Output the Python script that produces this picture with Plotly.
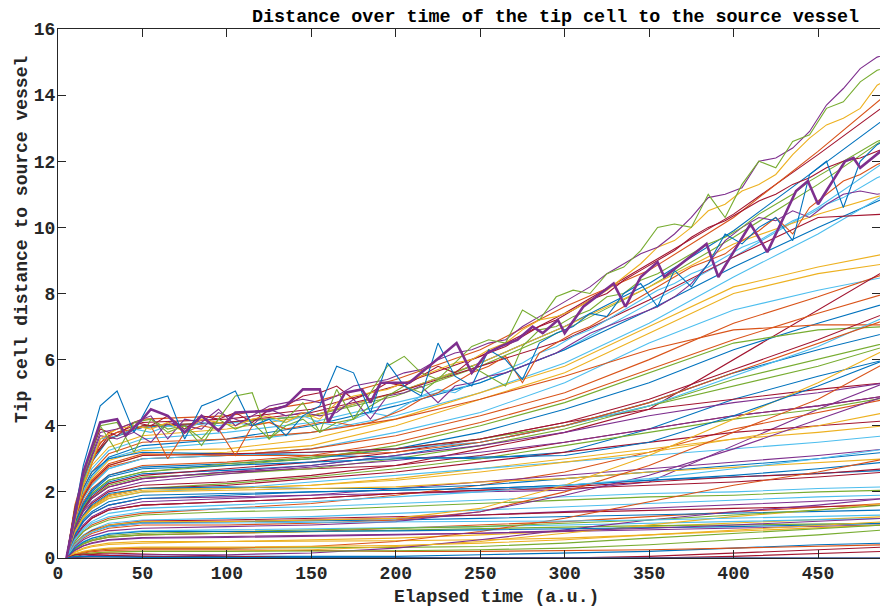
import plotly.graph_objects as go

# MATLAB default colour order
palette = ["#0072BD", "#D95319", "#EDB120", "#7E2F8E", "#77AC30", "#4DBEEE", "#A2142F"]

# Sample times for the smoothly growing tip cells
smooth_t = [5, 10, 15, 20, 30, 50, 100, 150, 200, 250, 300, 350, 400, 450, 490]

# (colour index, distance at each sample time)
smooth_lines = [
    (6, [0, 1.5, 2.4, 3.0, 3.7, 4.1, 4.2, 4.5, 5.2, 6.1, 7.4, 8.9, 10.4, 12.2, 13.7]),
    (0, [0, 1.5, 2.3, 2.9, 3.6, 3.95, 4.1, 4.3, 5.0, 5.9, 7.0, 8.3, 9.9, 11.8, 13.3]),
    (1, [0, 1.6, 2.5, 3.1, 3.8, 4.2, 4.3, 4.7, 5.4, 6.3, 7.6, 8.7, 10.3, 12.3, 14.0]),
    (4, [0, 1.5, 2.4, 3.0, 3.6, 4.0, 4.1, 4.3, 4.9, 5.8, 6.9, 8.2, 9.7, 11.3, 12.7]),
    (5, [0, 1.4, 2.2, 2.7, 3.25, 3.6, 3.8, 4.1, 4.7, 5.3, 6.3, 7.7, 9.1, 10.6, 12.0]),
    (2, [0, 1.4, 2.2, 2.8, 3.35, 3.7, 3.9, 4.3, 5.0, 5.9, 7.0, 8.2, 9.5, 10.4, 11.0]),
    (0, [0, 1.3, 2.0, 2.5, 3.05, 3.4, 3.6, 4.0, 4.6, 5.3, 6.3, 7.5, 8.8, 10.0, 10.9]),
    (5, [0, 1.25, 2.0, 2.45, 3.0, 3.3, 3.5, 3.8, 4.3, 5.0, 5.9, 7.1, 8.5, 9.8, 11.0]),
    (6, [0, 1.5, 2.4, 3.0, 3.6, 4.0, 4.1, 4.4, 5.0, 5.8, 6.6, 7.8, 9.1, 10.3, 10.4]),
    (2, [0, 1.2, 1.95, 2.4, 2.95, 3.25, 3.3, 3.6, 4.2, 5.0, 5.8, 7.0, 8.2, 8.8, 9.2]),
    (2, [0, 1.2, 1.85, 2.3, 2.8, 3.1, 3.2, 3.4, 4.0, 4.8, 5.6, 6.8, 8.0, 8.6, 8.9]),
    (5, [0, 1.15, 1.8, 2.2, 2.7, 3.0, 3.1, 3.3, 3.8, 4.4, 5.3, 6.5, 7.5, 8.1, 8.5]),
    (1, [0, 1.1, 1.8, 2.25, 2.75, 3.0, 3.1, 3.3, 3.7, 4.3, 5.0, 6.0, 7.1, 7.9, 8.6]),
    (6, [0, 0.9, 1.45, 1.8, 2.15, 2.4, 2.6, 2.7, 2.8, 3.3, 3.8, 4.5, 6.0, 7.5, 8.7]),
    (1, [0, 1.05, 1.7, 2.1, 2.5, 2.8, 2.9, 3.1, 3.5, 4.1, 4.8, 5.7, 6.6, 7.4, 8.0]),
    (0, [0, 1.05, 1.65, 2.05, 2.5, 2.75, 2.85, 3.0, 3.3, 3.8, 4.5, 5.3, 6.3, 7.1, 7.7]),
    (1, [0, 1.35, 2.1, 2.6, 3.15, 3.5, 3.6, 3.8, 4.2, 4.8, 5.5, 6.3, 6.9, 7.05, 7.05]),
    (4, [0, 1.0, 1.55, 1.95, 2.35, 2.6, 2.8, 3.0, 3.4, 4.0, 4.7, 5.6, 6.5, 6.9, 7.0]),
    (0, [0, 0.95, 1.5, 1.9, 2.3, 2.55, 2.65, 2.8, 3.1, 3.5, 4.0, 4.7, 5.6, 6.3, 6.8]),
    (4, [0, 0.9, 1.45, 1.8, 2.2, 2.45, 2.55, 2.7, 3.0, 3.4, 3.9, 4.6, 5.4, 6.0, 6.5]),
    (0, [0, 1.3, 2.1, 2.6, 3.0, 3.2, 3.15, 3.1, 3.05, 3.0, 3.2, 3.9, 4.8, 5.5, 6.0]),
    (3, [0, 0.7, 1.1, 1.35, 1.6, 1.8, 1.85, 1.9, 1.95, 2.0, 2.05, 2.3, 3.4, 4.5, 5.3]),
    (6, [0, 0.95, 1.5, 1.85, 2.25, 2.5, 2.7, 2.9, 3.2, 3.6, 4.1, 4.5, 4.8, 5.1, 5.3]),
    (3, [0, 0.9, 1.45, 1.8, 2.15, 2.4, 2.6, 2.8, 3.1, 3.4, 3.8, 4.3, 4.7, 5.0, 5.3]),
    (6, [0, 0.85, 1.3, 1.65, 2.0, 2.2, 2.3, 2.5, 2.8, 3.1, 3.5, 3.9, 4.3, 4.6, 4.9]),
    (4, [0, 0.8, 1.25, 1.55, 1.9, 2.1, 2.25, 2.45, 2.7, 3.0, 3.4, 3.8, 4.2, 4.5, 4.85]),
    (1, [0, 0.5, 0.8, 1.0, 1.2, 1.35, 1.5, 1.65, 1.9, 2.2, 2.6, 3.2, 3.9, 4.4, 4.8]),
    (6, [0, 0.8, 1.25, 1.55, 1.9, 2.1, 2.2, 2.4, 2.6, 2.9, 3.2, 3.5, 3.8, 4.0, 4.15]),
    (2, [0, 0.8, 1.25, 1.55, 1.9, 2.1, 2.1, 2.2, 2.4, 2.7, 3.0, 3.3, 3.6, 3.8, 4.0]),
    (5, [0, 0.75, 1.2, 1.5, 1.8, 2.0, 2.1, 2.3, 2.5, 2.7, 2.9, 3.1, 3.3, 3.5, 3.7]),
    (3, [0, 0.65, 1.0, 1.25, 1.5, 1.7, 1.8, 1.9, 2.1, 2.3, 2.5, 2.7, 2.9, 3.1, 3.3]),
    (0, [0, 0.8, 1.3, 1.6, 1.95, 2.1, 2.15, 2.1, 2.1, 2.2, 2.4, 2.6, 2.8, 3.0, 3.2]),
    (2, [0, 0.75, 1.2, 1.5, 1.8, 2.0, 2.05, 2.1, 2.15, 2.3, 2.4, 2.6, 2.75, 2.9, 3.0]),
    (0, [0, 0.7, 1.15, 1.4, 1.7, 1.9, 1.95, 2.0, 2.05, 2.1, 2.2, 2.35, 2.45, 2.55, 2.65]),
    (6, [0, 0.6, 0.95, 1.2, 1.45, 1.6, 1.7, 1.8, 1.95, 2.05, 2.15, 2.3, 2.45, 2.55, 2.7]),
    (5, [0, 0.55, 0.85, 1.05, 1.25, 1.4, 1.5, 1.55, 1.65, 1.75, 1.85, 1.95, 2.0, 2.1, 2.15]),
    (4, [0, 0.5, 0.8, 0.95, 1.15, 1.3, 1.4, 1.45, 1.55, 1.65, 1.75, 1.85, 1.9, 2.0, 2.05]),
    (5, [0, 0.45, 0.7, 0.85, 1.05, 1.15, 1.2, 1.25, 1.35, 1.45, 1.55, 1.65, 1.75, 1.85, 1.9]),
    (3, [0, 0.4, 0.65, 0.8, 0.95, 1.05, 1.1, 1.15, 1.2, 1.3, 1.4, 1.5, 1.6, 1.7, 1.8]),
    (1, [0, 0.27, 0.42, 0.52, 0.63, 0.7, 0.75, 0.8, 0.9, 1.0, 1.1, 1.25, 1.4, 1.55, 1.65]),
    (2, [0, 0.17, 0.27, 0.34, 0.41, 0.45, 0.5, 0.55, 0.6, 0.7, 0.8, 0.95, 1.05, 1.15, 1.25]),
    (4, [0, 0.27, 0.42, 0.52, 0.63, 0.7, 0.75, 0.8, 0.85, 0.9, 0.95, 0.98, 1.0, 1.03, 1.05]),
    (0, [0, 0.02, 0.03, 0.04, 0.05, 0.05, 0.05, 0.05, 0.05, 0.1, 0.15, 0.2, 0.3, 0.4, 0.45]),
    (6, [0, 0, 0, 0, 0, 0, 0, 0, 0, 0, 0, 0.05, 0.15, 0.25, 0.33]),
    (6, [0, 0.06, 0.1, 0.13, 0.15, 0.12, 0.05, 0, 0, 0, 0, 0, 0.05, 0.12, 0.2]),
    (0, [0, 0.42, 0.65, 0.8, 0.97, 1.08, 1.1, 1.12, 1.15, 1.2, 1.25, 1.3, 1.35, 1.4, 1.45]),
    (5, [0, 0.32, 0.5, 0.6, 0.74, 0.82, 0.85, 0.88, 0.9, 0.95, 1.0, 1.05, 1.1, 1.15, 1.2]),
    (3, [0, 0.24, 0.37, 0.46, 0.56, 0.62, 0.65, 0.68, 0.7, 0.75, 0.8, 0.85, 0.9, 0.95, 1.0]),
    (2, [0, 0.19, 0.3, 0.37, 0.45, 0.5, 0.5, 0.5, 0.52, 0.55, 0.6, 0.7, 0.8, 0.9, 1.0]),
    (4, [0, 0.12, 0.18, 0.22, 0.27, 0.3, 0.3, 0.3, 0.32, 0.35, 0.45, 0.6, 0.75, 0.9, 1.0]),
    (1, [0, 0.1, 0.15, 0.19, 0.23, 0.25, 0.25, 0.22, 0.2, 0.2, 0.22, 0.25, 0.3, 0.35, 0.4]),
    (6, [0, 0.43, 0.67, 0.83, 1.0, 1.12, 1.15, 1.2, 1.25, 1.3, 1.38, 1.45, 1.5, 1.55, 1.6]),
    (6, [0, 0.6, 0.95, 1.2, 1.45, 1.6, 1.7, 1.8, 1.95, 2.05, 2.1, 2.2, 2.3, 2.45, 2.6]),
    (0, [0, 0.7, 1.1, 1.35, 1.6, 1.8, 1.9, 2.0, 2.05, 2.1, 2.2, 2.35, 2.5, 2.7, 2.9]),
    (2, [0, 0.8, 1.25, 1.5, 1.85, 2.05, 2.1, 2.2, 2.35, 2.6, 2.9, 3.2, 3.6, 4.0, 4.4]),
    (4, [0, 1.0, 1.55, 1.95, 2.35, 2.6, 2.85, 3.05, 3.3, 3.6, 4.0, 4.6, 5.2, 5.8, 6.4]),
    (3, [0, 0.9, 1.4, 1.7, 2.05, 2.3, 2.55, 2.75, 2.95, 3.2, 3.5, 3.9, 4.3, 4.6, 4.9]),
    (2, [0, 0.08, 0.12, 0.15, 0.18, 0.2, 0.2, 0.25, 0.35, 0.5, 0.75, 1.0, 1.25, 1.45, 1.65]),
    (3, [0, 0.04, 0.06, 0.08, 0.09, 0.1, 0.1, 0.15, 0.3, 0.55, 0.85, 1.15, 1.4, 1.6, 1.8]),
    (1, [0, 0.12, 0.18, 0.22, 0.27, 0.3, 0.3, 0.35, 0.5, 0.8, 1.2, 1.7, 2.2, 2.6, 3.0]),
    (2, [0, 0.42, 0.66, 0.8, 1.0, 1.1, 1.1, 1.15, 1.2, 1.5, 2.2, 3.1, 4.2, 5.3, 6.3]),
    (1, [0, 0.38, 0.6, 0.74, 0.9, 1.0, 1.0, 1.05, 1.15, 1.4, 2.0, 2.8, 3.8, 4.8, 5.9]),
    (3, [0, 0.35, 0.55, 0.67, 0.82, 0.9, 0.95, 1.0, 1.1, 1.4, 1.9, 2.5, 3.3, 4.2, 4.9]),
    (5, [0, 0.57, 0.9, 1.1, 1.35, 1.5, 1.6, 1.7, 1.85, 2.0, 2.2, 2.4, 2.7, 3.0, 3.3]),
    (0, [0, 1.05, 1.6, 2.0, 2.45, 2.7, 2.8, 2.9, 3.0, 3.05, 3.1, 3.5, 4.3, 5.2, 6.0]),
    (5, [0, 1.15, 1.8, 2.2, 2.7, 3.0, 3.1, 3.2, 3.3, 3.5, 4.0, 4.6, 5.5, 6.4, 7.3]),
    (6, [0, 1.2, 1.85, 2.3, 2.8, 3.1, 3.15, 3.2, 3.3, 3.6, 4.1, 4.8, 5.7, 6.6, 7.4]),
    (1, [0, 1.2, 1.9, 2.35, 2.85, 3.15, 3.1, 3.1, 3.2, 3.5, 4.0, 4.7, 5.6, 6.5, 7.2]),
    (4, [0, 0.29, 0.45, 0.55, 0.68, 0.75, 0.8, 0.85, 0.9, 0.95, 1.05, 1.15, 1.3, 1.45, 1.6]),
    (5, [0, 0.4, 0.63, 0.78, 0.95, 1.05, 1.06, 1.07, 1.08, 1.1, 1.12, 1.15, 1.2, 1.25, 1.3]),
    (0, [0, 0.3, 0.48, 0.6, 0.72, 0.8, 0.8, 0.8, 0.82, 0.85, 0.88, 0.9, 0.95, 1.0, 1.05]),
    (3, [0, 0.23, 0.36, 0.44, 0.54, 0.6, 0.62, 0.65, 0.7, 0.75, 0.82, 0.9, 1.0, 1.1, 1.2]),
    (2, [0, 0.13, 0.2, 0.25, 0.3, 0.33, 0.33, 0.35, 0.38, 0.45, 0.55, 0.7, 0.85, 1.0, 1.1]),
    (4, [0, 0.08, 0.12, 0.15, 0.18, 0.2, 0.2, 0.2, 0.22, 0.25, 0.3, 0.4, 0.55, 0.7, 0.85]),
    (6, [0, 0.1, 0.12, 0.1, 0.08, 0.05, 0.02, 0, 0, 0, 0, 0, 0, 0, 0]),
    (0, [0, 0.05, 0.05, 0.04, 0.03, 0.02, 0.01, 0, 0, 0, 0, 0, 0, 0, 0]),
]

# Sample times for the fluctuating, fastest-moving tip cells
noisy_t = [5, 15, 25, 35, 45, 55, 65, 75, 85, 95,
           105, 115, 125, 135, 145, 155, 165, 175, 185, 195,
           205, 215, 225, 235, 245, 255, 265, 275, 285, 295,
           305, 315, 325, 335, 345, 355, 365, 375, 385, 395,
           405, 415, 425, 435, 445, 455, 465, 475, 485, 495]

noisy_lines = [
    (5, [0, 2.3, 3.6, 3.7, 3.9, 3.8, 4.0, 3.9, 4.1, 4.0, 4.1, 4.0, 4.2, 4.1, 4.3, 4.1, 4.0, 4.2, 4.4, 4.3,
         4.6, 4.9, 5.1, 5.0, 5.3, 5.5, 5.7, 5.9, 6.2, 6.4, 6.7, 6.9, 7.2, 7.5, 7.8, 8.1, 8.3, 8.6, 8.8, 9.1,
         9.4, 9.6, 9.9, 10.2, 10.4, 10.7, 10.9, 11.2, 11.5, 11.7]),
    (3, [0, 2.4, 3.7, 3.6, 3.8, 3.5, 4.1, 4.0, 3.9, 4.4, 4.2, 4.0, 4.5, 4.3, 4.4, 4.3, 4.4, 4.8, 4.2, 4.9,
         5.0, 5.2, 4.7, 5.2, 5.3, 5.5, 5.6, 5.8, 6.0, 6.2, 6.5, 6.8, 7.0, 7.2, 7.4, 7.6, 7.9, 8.3, 8.9, 9.6,
         10.0, 10.3, 10.2, 10.5, 10.3, 10.7, 11.0, 11.1, 11.0, 11.1]),
    (1, [0, 2.2, 3.5, 3.8, 3.9, 4.0, 3.0, 3.8, 4.0, 3.9, 3.1, 4.0, 4.1, 3.9, 4.0, 4.1, 4.1, 4.0, 4.1, 4.3,
         4.5, 4.8, 5.0, 5.3, 5.6, 5.8, 6.1, 5.3, 6.2, 6.5, 6.8, 7.0, 7.3, 7.6, 7.9, 8.2, 8.5, 8.8, 9.0, 9.2,
         9.6, 9.9, 10.3, 9.8, 10.6, 11.0, 11.4, 11.6, 11.9, 12.1]),
    (4, [0, 2.3, 4.0, 4.1, 3.2, 4.2, 3.9, 4.0, 3.6, 4.2, 3.9, 4.1, 3.6, 4.0, 4.2, 3.8, 4.1, 4.2, 4.6, 4.9,
         5.2, 5.0, 5.4, 5.6, 5.8, 5.5, 5.2, 6.4, 6.9, 7.0, 7.3, 7.5, 7.9, 8.0, 8.4, 8.6, 8.9, 9.2, 9.5, 9.7,
         10.0, 10.4, 10.7, 11.0, 11.4, 11.7, 12.0, 12.3, 12.6, 12.8]),
    (6, [0, 2.6, 3.9, 3.7, 4.1, 4.0, 4.3, 3.9, 4.3, 4.2, 4.4, 4.1, 4.5, 4.6, 4.9, 5.0, 5.2, 4.8, 5.0, 5.3,
         5.2, 5.5, 5.8, 5.6, 6.0, 6.2, 6.4, 6.7, 7.0, 7.2, 7.5, 7.8, 8.0, 8.4, 8.7, 9.0, 9.3, 9.7, 10.0, 10.2,
         10.5, 10.8, 11.0, 11.3, 11.5, 11.8, 12.0, 12.1, 12.3, 12.5]),
    (2, [0, 2.2, 3.6, 3.9, 4.0, 3.9, 4.1, 3.8, 4.2, 4.1, 4.0, 4.2, 4.3, 4.1, 4.4, 4.2, 4.7, 4.9, 5.0, 5.1,
         5.3, 5.5, 5.7, 5.9, 6.0, 6.3, 6.5, 6.9, 7.2, 7.3, 7.5, 7.8, 8.1, 8.5, 8.9, 9.4, 9.6, 10.0, 10.5, 10.7,
         11.1, 11.3, 11.6, 12.2, 12.7, 13.1, 13.3, 13.6, 14.3, 14.6]),
    (3, [0, 2.4, 3.8, 3.9, 4.1, 4.3, 3.6, 4.2, 4.1, 4.5, 4.0, 4.3, 4.6, 4.7, 4.8, 4.7, 4.9, 5.2, 5.3, 5.4,
         5.6, 5.7, 6.0, 6.2, 6.3, 6.5, 6.6, 7.0, 7.3, 7.6, 7.9, 8.2, 8.6, 8.9, 9.2, 9.4, 9.8, 10.3, 10.9, 11.0,
         11.2, 12.0, 12.1, 12.4, 12.9, 13.7, 14.2, 14.8, 15.15, 15.3]),
    (4, [0, 2.5, 4.0, 3.2, 4.1, 4.2, 3.8, 4.0, 3.4, 4.2, 4.9, 5.0, 3.6, 4.2, 4.7, 3.8, 5.1, 4.2, 5.0, 5.8,
         6.1, 5.6, 5.4, 5.9, 6.4, 6.6, 6.5, 7.5, 7.2, 7.9, 8.1, 8.0, 8.6, 8.8, 9.3, 10.0, 10.1, 10.0, 11.0, 10.3,
         11.3, 12.0, 11.8, 12.6, 12.8, 13.6, 13.8, 14.4, 14.75, 14.9]),
    (0, [0, 2.8, 4.6, 5.05, 3.8, 4.75, 4.9, 3.6, 4.6, 4.8, 5.05, 4.0, 4.2, 3.7, 4.3, 4.6, 5.8, 5.6, 4.4, 5.9,
         5.2, 4.9, 6.5, 5.5, 5.2, 6.3, 6.0, 5.4, 6.5, 6.8, 7.0, 7.4, 7.3, 8.0, 8.3, 7.6, 8.7, 8.2, 8.9, 9.8,
         9.5, 10.0, 10.3, 9.6, 11.6, 12.0, 10.6, 12.0, 12.5, 12.8]),
]

# Highlighted tip cell (drawn thicker)
highlight_t = [5, 15, 25, 35, 40, 50, 55, 65, 75, 85, 95, 105, 125, 135, 145, 155, 160, 170, 180, 185,
               191, 208, 236, 245, 254, 262, 272, 281, 287, 296, 300, 311, 329, 336, 345, 355, 359, 384,
               391, 410, 420, 437, 444, 450, 466, 471, 475, 487]
highlight_d = [0, 2.6, 4.1, 4.2, 3.7, 4.2, 4.5, 4.3, 3.8, 4.3, 3.85, 4.4, 4.45, 4.6, 5.1, 5.1, 4.1, 5.0, 5.1, 4.7,
               5.3, 5.3, 6.5, 5.6, 6.2, 6.4, 6.6, 7.0, 6.8, 7.2, 6.8, 7.6, 8.3, 7.6, 8.5, 8.95, 8.5, 9.5,
               8.5, 10.1, 9.25, 11.1, 11.4, 10.7, 12.0, 12.1, 11.8, 12.3]

x_ticks = [0, 50, 100, 150, 200, 250, 300, 350, 400, 450]
y_ticks = [0, 2, 4, 6, 8, 10, 12, 14, 16]

fig = go.Figure()
for ci, d in smooth_lines:
    fig.add_trace(go.Scatter(x=smooth_t, y=d, mode="lines",
                             line=dict(color=palette[ci], width=1.1), hoverinfo="skip"))
for ci, d in noisy_lines:
    fig.add_trace(go.Scatter(x=noisy_t, y=d, mode="lines",
                             line=dict(color=palette[ci], width=1.1), hoverinfo="skip"))
fig.add_trace(go.Scatter(x=highlight_t, y=highlight_d, mode="lines",
                         line=dict(color="#7E2F8E", width=2.6), hoverinfo="skip"))

font_family = "Liberation Mono, Courier New, monospace"
ink = "#262626"
W, H = 880, 609
L, R, T, B = 58, 0, 29, 51
pw, ph = W - L - R, H - T - B

def px(x):
    return (x - L) / pw

def py(y):
    return (H - B - y) / ph

axis_common = dict(
    showgrid=False, zeroline=False, showline=True, linecolor=ink, linewidth=1,
    mirror="ticks", ticks="inside", ticklen=8, tickwidth=1, tickcolor=ink,
    tickfont=dict(family=font_family, size=18, color=ink, weight="bold"),
)

fig.update_layout(
    width=W, height=H,
    margin=dict(l=L, r=R, t=T, b=B),
    plot_bgcolor="white", paper_bgcolor="white",
    showlegend=False,
    xaxis=dict(range=[0, 486.7], tickvals=x_ticks, ticklabelstandoff=-2, **axis_common),
    yaxis=dict(range=[0, 16], tickvals=y_ticks, ticklabelstandoff=-2, **axis_common),
    annotations=[
        dict(text="Distance over time of the tip cell to the source vessel", xref="paper", yref="paper",
             x=px(555.5), y=py(17), xanchor="center", yanchor="middle", showarrow=False,
             font=dict(family=font_family, size=18.4, color="black", weight="bold")),
        dict(text="Elapsed time (a.u.)", xref="paper", yref="paper",
             x=px(496), y=py(597), xanchor="center", yanchor="middle", showarrow=False,
             font=dict(family=font_family, size=18, color=ink, weight="bold")),
        dict(text="Tip cell distance to source vessel", xref="paper", yref="paper",
             x=px(22), y=py(240), xanchor="center", yanchor="middle", showarrow=False, textangle=-90,
             font=dict(family=font_family, size=18, color=ink, weight="bold")),
    ],
)

fig.write_html("out.html")
